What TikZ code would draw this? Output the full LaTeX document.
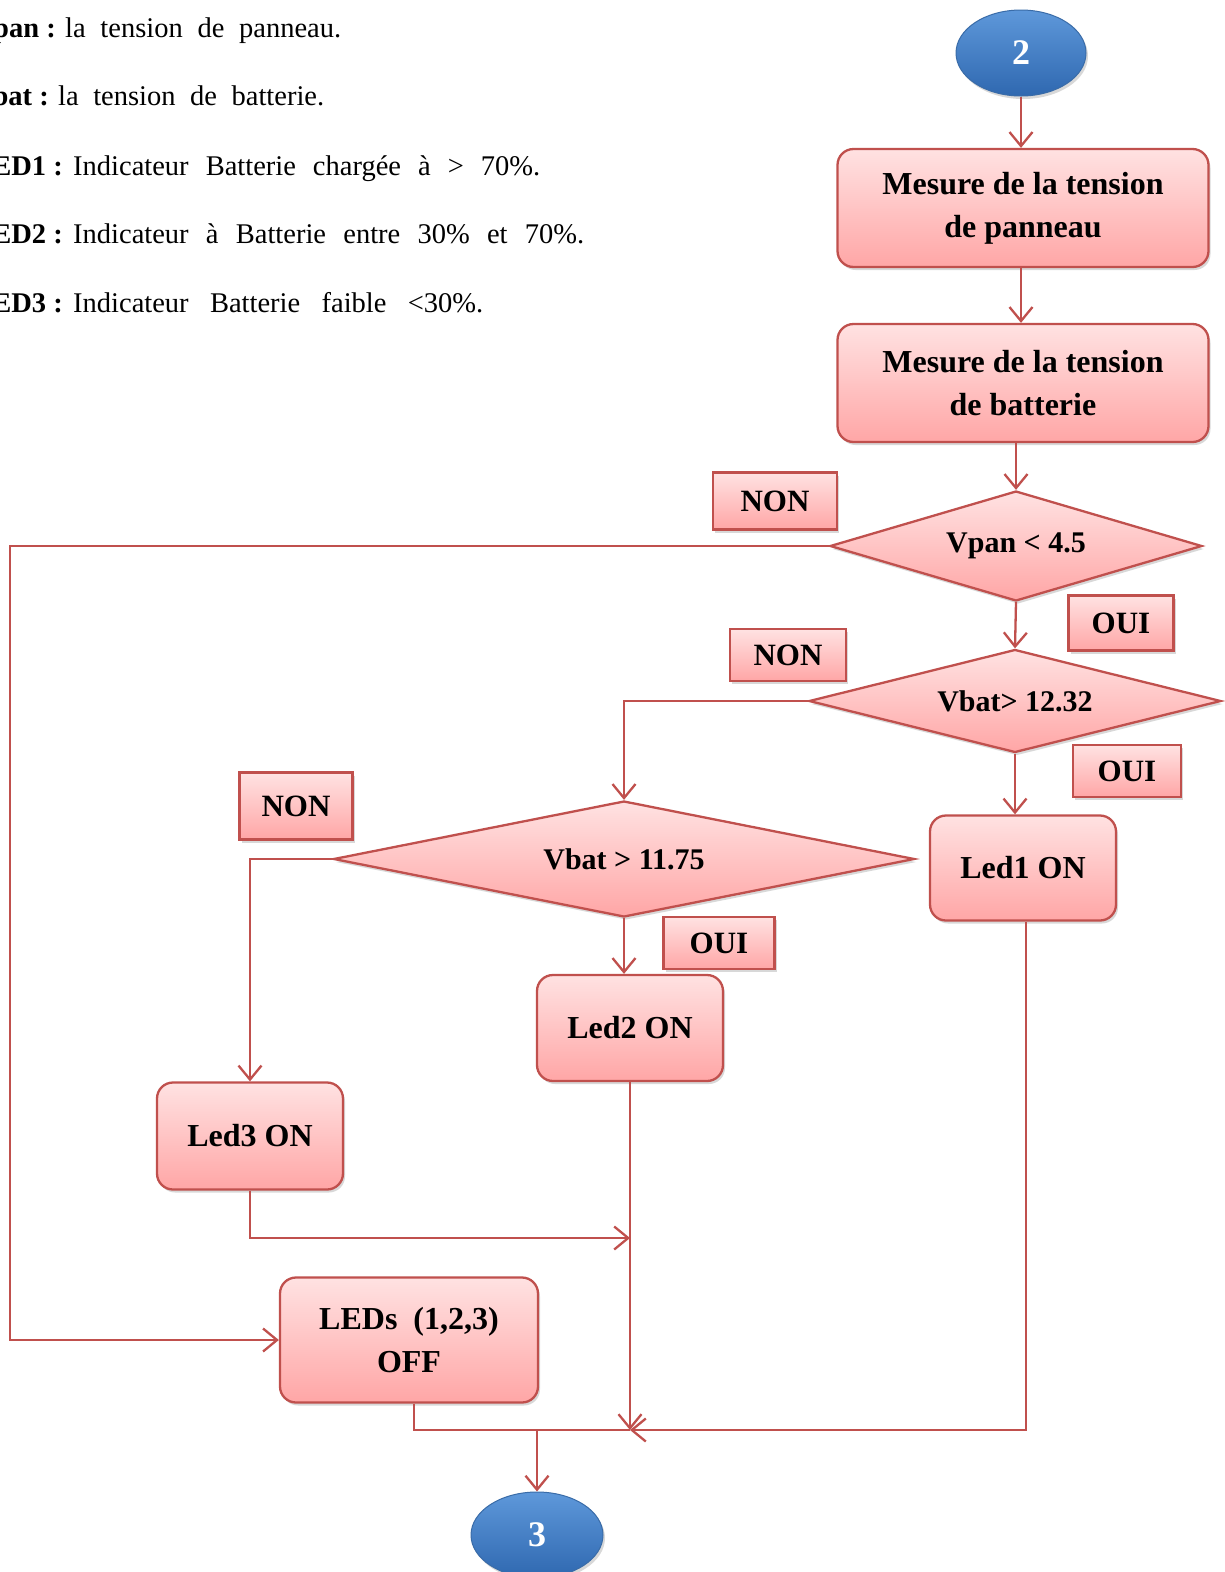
\documentclass[tikz,border=0pt]{standalone}
\usepackage{fontspec}
\setmainfont{Liberation Serif}
\usetikzlibrary{arrows.meta,shapes.geometric,shadows}
\definecolor{bord}{HTML}{C0504D}
\definecolor{ptop}{HTML}{FFE2E2}
\definecolor{pbot}{HTML}{FFA6A6}
\definecolor{btop}{HTML}{5E98DA}
\definecolor{bbot}{HTML}{2F68B0}
\definecolor{bdraw}{HTML}{3A6CA8}
\tikzset{
  conn/.style={draw=bord, line width=2.3pt},
  arr/.style={conn, -{Straight Barb[length=14pt,width=23pt]}},
  shd/.style={drop shadow={shadow xshift=2pt, shadow yshift=-3pt, opacity=0.3, fill=black!50}},
  pinkfill/.style={top color=ptop, bottom color=pbot, draw=bord, line width=2.3pt},
  procbox/.style={pinkfill, shd, rectangle, rounded corners=16pt, inner sep=0pt, align=center,
    font=\bfseries\fontsize{32}{43}\selectfont},
  decision/.style={pinkfill, shd, diamond, shape aspect=3.5, inner sep=0pt,
    font=\bfseries\fontsize{30}{36}\selectfont},
  lbl/.style={pinkfill, shd, rectangle, inner sep=0pt, font=\bfseries\fontsize{31}{36}\selectfont},
  term/.style={ellipse, top color=btop, bottom color=bbot, draw=bdraw, line width=1pt, shd,
    inner sep=0pt, text=white, font=\bfseries\fontsize{36}{40}\selectfont},
  legend/.style={inner sep=0pt, font=\fontsize{28.5}{33}\selectfont},
  legkey/.style={legend, font=\bfseries\fontsize{28.5}{33}\selectfont},
}
\begin{document}
\begin{tikzpicture}[x=1pt,y=-1pt]
\useasboundingbox (0,0) rectangle (1225,1572);
\clip (0,0) rectangle (1225,1572);
\fill[white] (0,0) rectangle (1225,1572);

% legend
\node[legkey, anchor=base east] (k1) at (56,37) {Vpan :};
\node[legend, anchor=base west] (t1) at (65,37) {\makebox[276pt][s]{la tension de panneau.}};
\node[legkey, anchor=base east] (k2) at (49,105) {Vbat :};
\node[legend, anchor=base west] (t2) at (58,105) {\makebox[266pt][s]{la tension de batterie.}};
\node[legkey, anchor=base east] (k3) at (63,175) {LED1 :};
\node[legend, anchor=base west] (t3) at (73,175) {\makebox[467pt][s]{Indicateur Batterie chargée à > 70\%.}};
\node[legkey, anchor=base east] (k4) at (63,243) {LED2 :};
\node[legend, anchor=base west] (t4) at (73,243) {\makebox[511pt][s]{Indicateur à Batterie entre 30\% et 70\%.}};
\node[legkey, anchor=base east] (k5) at (63,312) {LED3 :};
\node[legend, anchor=base west] (t5) at (73,312) {\makebox[410pt][s]{Indicateur Batterie faible <30\%.}};

% terminals
\node[term, minimum width=130pt, minimum height=86pt] (e2) at (1021,53) {2};
\node[term, minimum width=132pt, minimum height=86pt] (e3) at (537,1535) {3};

% process boxes
\node[procbox, minimum width=371pt, minimum height=118pt] (m1) at (1023,208) {Mesure de la tension\\de panneau};
\node[procbox, minimum width=371pt, minimum height=118pt] (m2) at (1023,383) {Mesure de la tension\\de batterie};

% decisions
\node[decision, minimum width=372pt, minimum height=110pt] (d1) at (1016,546) {Vpan < 4.5};
\node[decision, minimum width=412pt, minimum height=103pt] (d2) at (1015,701) {Vbat> 12.32};
\node[decision, minimum width=581pt, minimum height=116pt] (d3) at (624,859) {Vbat > 11.75};

% leds
\node[procbox, minimum width=186pt, minimum height=105pt] (led1) at (1023,868) {Led1 ON};
\node[procbox, minimum width=186pt, minimum height=106pt] (led2) at (630,1028) {Led2 ON};
\node[procbox, minimum width=186pt, minimum height=107pt] (led3) at (250,1136) {Led3 ON};
\node[procbox, minimum width=258pt, minimum height=125pt] (off) at (409,1340) {LEDs~ (1,2,3)\\OFF};

% labels
\node[lbl, minimum width=124pt, minimum height=57pt] (non1) at (775,501) {NON};
\node[lbl, minimum width=105pt, minimum height=55pt] (oui1) at (1121,623) {OUI};
\node[lbl, minimum width=116pt, minimum height=52pt] (non2) at (788,655) {NON};
\node[lbl, minimum width=108pt, minimum height=52pt] (oui2) at (1127,771) {OUI};
\node[lbl, minimum width=113pt, minimum height=67pt] (non3) at (296,806) {NON};
\node[lbl, minimum width=111pt, minimum height=52pt] (oui3) at (719,943) {OUI};

% junction points
\coordinate (cL) at (10,546);
\coordinate (mrg) at (630,1430);
\coordinate (j3) at (630,1238);

% connectors
\draw[arr] (e2.south) -- (e2.south |- m1.north);
\draw[arr] (m1.south -| e2.south) -- (e2.south |- m2.north);
\draw[arr] (d1.north |- m2.south) -- (d1.north);
\draw[arr] (d1.south) -- (d2.north);
\draw[arr] (d1.west) -- (cL) |- (off.west);
\draw[arr] (d2.west) -- (d2.west -| d3.north) -- (d3.north);
\draw[arr] (d2.south) -- (d2.south |- led1.north);
\draw[arr] (d3.west) -- (d3.west -| led3.north) -- (led3.north);
\draw[arr] (d3.south) -- (d3.south |- led2.north);
\draw[arr] (led3.south) |- (j3);
\draw[arr] (led2.south) -- (mrg);
\draw[arr] ([xshift=3pt]led1.south) -- ([xshift=3pt]led1.south |- mrg) -- (mrg);
\draw[conn] ([xshift=5pt]off.south) |- (mrg);
\draw[arr] (e3.north |- mrg) -- (e3.north);
\end{tikzpicture}
\end{document}
